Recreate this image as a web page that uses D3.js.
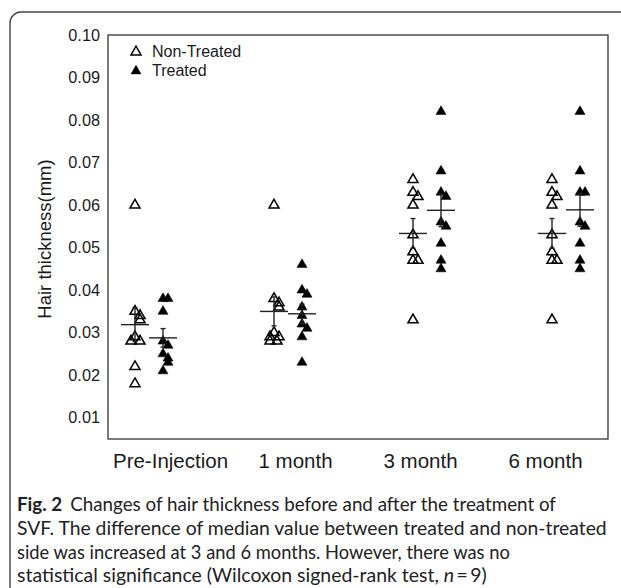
<!DOCTYPE html>
<html>
<head>
<meta charset="utf-8">
<script src="https://cdn.jsdelivr.net/npm/d3@7"></script>
<style>
  body { margin: 0; background: #fff; }
  svg { display: block; }
</style>
</head>
<body>
<div id="chart"></div>
<script>
// ---- data ----
const categories = ["Pre-Injection", "1 month", "3 month", "6 month"];

const nonTreated = [
  [0.060, 0.035, 0.034, 0.033, 0.029, 0.028, 0.028, 0.022, 0.018],
  [0.060, 0.038, 0.037, 0.036, 0.030, 0.029, 0.029, 0.028, 0.028],
  [0.066, 0.063, 0.062, 0.060, 0.053, 0.049, 0.047, 0.047, 0.033],
  [0.066, 0.063, 0.062, 0.060, 0.053, 0.049, 0.047, 0.047, 0.033]
];

const treated = [
  [0.038, 0.038, 0.035, 0.028, 0.027, 0.025, 0.024, 0.023, 0.021],
  [0.046, 0.040, 0.039, 0.036, 0.034, 0.032, 0.031, 0.029, 0.023],
  [0.082, 0.068, 0.063, 0.062, 0.056, 0.055, 0.051, 0.047, 0.045],
  [0.082, 0.068, 0.063, 0.063, 0.056, 0.055, 0.051, 0.047, 0.045]
];

const yTicks = [0.01, 0.02, 0.03, 0.04, 0.05, 0.06, 0.07, 0.08, 0.09, 0.10];

const legendLabels = ["Non-Treated", "Treated"];
const yTitle = "Hair thickness(mm)";

const captionBold = "Fig. 2";
const captionLines = [
  "Changes of hair thickness before and after the treatment of",
  "SVF. The difference of median value between treated and non-treated",
  "side was increased at 3 and 6 months. However, there was no",
  "statistical significance (Wilcoxon signed-rank test, "
];

// ---- layout ----
const W = 621, H = 588;
const plot = { left: 108, right: 608, top: 35, bottom: 439 };
const ink = "#1a1a1a";

const svg = d3.select("#chart").append("svg")
  .attr("width", W).attr("height", H)
  .attr("viewBox", [0, 0, W, H]);

// outer figure frame (rounded, running off the right / bottom)
svg.append("rect")
  .attr("x", 10).attr("y", 12)
  .attr("width", 700).attr("height", 700)
  .attr("rx", 11)
  .attr("fill", "none")
  .attr("stroke", "#444")
  .attr("stroke-width", 1.4);

// scales
const y = d3.scaleLinear([0.005, 0.10], [plot.bottom, plot.top]);
const xLabel = d3.scaleBand(categories, [plot.left, plot.right]);
const xGroup = d3.scalePoint(categories, [149, 566]);
const sideOffset = { nt: -14, t: 14 };

// plot frame
svg.append("rect")
  .attr("x", plot.left).attr("y", plot.top)
  .attr("width", plot.right - plot.left)
  .attr("height", plot.bottom - plot.top)
  .attr("fill", "none")
  .attr("stroke", "#333")
  .attr("stroke-width", 1.3);

// y axis labels (no tick marks in original)
const yAxis = d3.axisLeft(y)
  .tickValues(yTicks)
  .tickFormat(d3.format(".2f"))
  .tickSize(0)
  .tickPadding(8);

svg.append("g")
  .attr("class", "y-axis")
  .attr("transform", `translate(${plot.left}, 0)`)
  .call(yAxis)
  .call(g => g.select(".domain").remove())
  .call(g => g.selectAll("text")
    .attr("font-family", "Liberation Sans, Arial, sans-serif")
    .attr("font-size", 16.3)
    .attr("fill", ink));

// x axis labels
const xAxis = d3.axisBottom(xLabel).tickSize(0).tickPadding(14);
svg.append("g")
  .attr("class", "x-axis")
  .attr("transform", `translate(0, ${plot.bottom})`)
  .call(xAxis)
  .call(g => g.select(".domain").remove())
  .call(g => g.selectAll("text")
    .attr("font-family", "Liberation Sans, Arial, sans-serif")
    .attr("font-size", 20.5)
    .attr("fill", ink));

// y title
svg.append("text")
  .attr("transform", `translate(51, ${(plot.top + plot.bottom) / 2 + 2}) rotate(-90)`)
  .attr("text-anchor", "middle")
  .attr("font-family", "Liberation Sans, Arial, sans-serif")
  .attr("font-size", 18.5)
  .attr("fill", ink)
  .text(yTitle);

// build point list, nudging near-equal values sideways a little
const nudges = [0, 5, -4, 3, -2];
function pointsFor(series, side) {
  const out = [];
  series.forEach((vals, gi) => {
    vals.forEach((v, i) => {
      const close = vals.slice(0, i).filter(u => Math.abs(u - v) < 0.0018).length;
      out.push({
        cat: categories[gi],
        value: v,
        dx: sideOffset[side] + nudges[close % nudges.length],
        side: side
      });
    });
  });
  return out;
}

const pts = pointsFor(nonTreated, "nt").concat(pointsFor(treated, "t"));

const tri = d3.symbol(d3.symbolTriangle, 44);

svg.append("g")
  .attr("class", "markers")
  .selectAll("path")
  .data(pts)
  .join("path")
  .attr("d", tri)
  .attr("transform", d => `translate(${xGroup(d.cat) + d.dx}, ${y(d.value)})`)
  .attr("fill", d => d.side === "t" ? "#000" : "none")
  .attr("stroke", "#000")
  .attr("stroke-width", d => d.side === "t" ? 0.5 : 1.5);

// mean +/- SEM
function summary(series, side) {
  return series.map((vals, gi) => {
    const m = d3.mean(vals);
    const sem = d3.deviation(vals) / Math.sqrt(vals.length);
    return { cat: categories[gi], mean: m, lo: m - sem, hi: m + sem, side: side };
  });
}
const stats = summary(nonTreated, "nt").concat(summary(treated, "t"));

const sg = svg.append("g").attr("class", "stats")
  .attr("stroke", "#222").attr("stroke-width", 1.4).attr("fill", "none");

stats.forEach(s => {
  const cx = xGroup(s.cat) + sideOffset[s.side];
  sg.append("line").attr("x1", cx).attr("x2", cx).attr("y1", y(s.lo)).attr("y2", y(s.hi));
  sg.append("line").attr("x1", cx - 2.5).attr("x2", cx + 2.5).attr("y1", y(s.hi)).attr("y2", y(s.hi));
  sg.append("line").attr("x1", cx - 2.5).attr("x2", cx + 2.5).attr("y1", y(s.lo)).attr("y2", y(s.lo));
  sg.append("line").attr("x1", cx - 14).attr("x2", cx + 14).attr("y1", y(s.mean)).attr("y2", y(s.mean));
});

// legend
const legend = svg.append("g").attr("class", "legend");
legendLabels.forEach((lab, i) => {
  const ly = 57 + i * 19;
  legend.append("path")
    .attr("d", tri)
    .attr("transform", `translate(136, ${ly - 5})`)
    .attr("fill", i === 1 ? "#000" : "none")
    .attr("stroke", "#000")
    .attr("stroke-width", i === 1 ? 0.5 : 1.5);
  legend.append("text")
    .attr("x", 152).attr("y", ly)
    .attr("font-family", "Liberation Sans, Arial, sans-serif")
    .attr("font-size", 16)
    .attr("fill", ink)
    .text(lab);
});

// caption: the original face is narrower, so lines get a horizontal
// scale; per-line fit is blended with the widest line's fit to keep the
// glyphs looking alike from line to line
const cap = svg.append("g").attr("class", "caption")
  .attr("font-family", "Lato, 'Noto Sans', sans-serif")
  .attr("fill", "#222");
const capFont = 18.5;
const capY = [511, 535, 559, 582];
const capRight = [541, 607, 484, 490];
const capLeft = 17;

const capTexts = captionLines.map((line, i) => {
  const t = cap.append("text")
    .attr("x", 0).attr("y", capY[i])
    .attr("font-size", capFont);
  if (i === 0) {
    t.append("tspan").attr("font-weight", "bold").text(captionBold);
    t.append("tspan").attr("dx", 8).text(line);
  } else if (i === 3) {
    t.append("tspan").text(line);
    t.append("tspan").attr("font-style", "italic").text("n");
    t.append("tspan").text("\u2009=\u20099)");
  } else {
    t.text(line);
  }
  return t;
});

const fits = capTexts.map((t, i) => (capRight[i] - capLeft) / t.node().getBBox().width);
capTexts.forEach((t, i) => {
  const sx = Math.sqrt(fits[i] * fits[1]);
  t.attr("transform", `translate(${capLeft}, 0) scale(${sx}, 1)`);
});
</script>
</body>
</html>
